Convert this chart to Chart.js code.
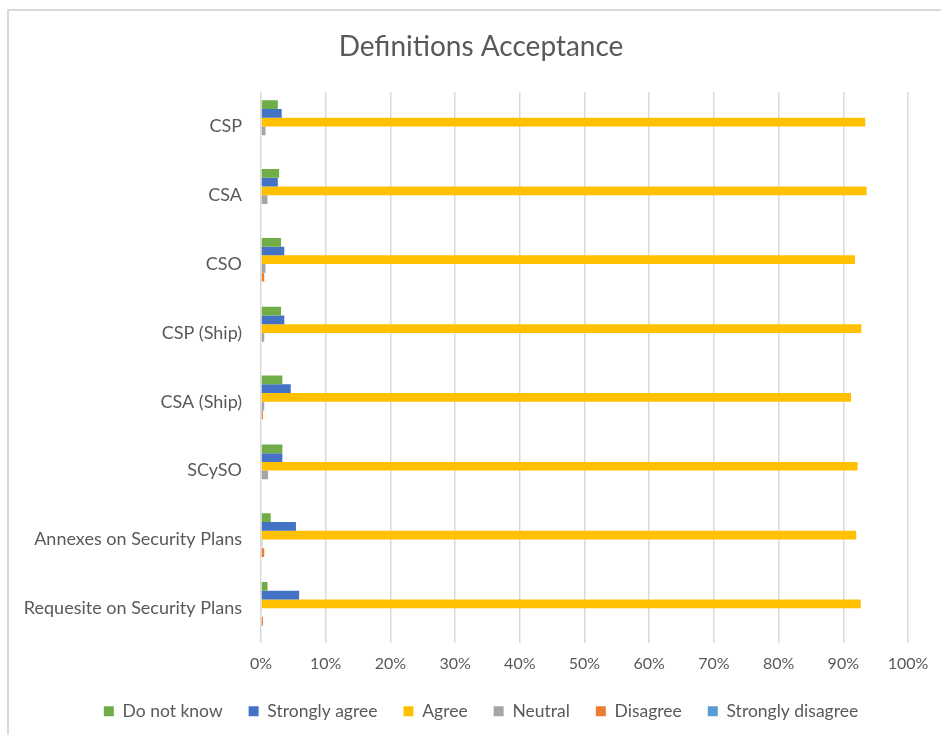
<!DOCTYPE html>
<html>
<head>
<meta charset="utf-8">
<script src="https://cdn.jsdelivr.net/npm/chart.js@4.4.1/dist/chart.umd.min.js"></script>
<style>
  html, body { margin: 0; padding: 0; background: #ffffff; overflow: hidden; }
  #frame {
    position: absolute; left: 7px; top: 9px; width: 1000px; height: 800px;
    border-top: 2px solid #d9d9d9; border-left: 2px solid #d9d9d9;
  }
  #wrap { position: absolute; left: 0; top: 0; width: 962px; height: 735px; }
</style>
</head>
<body>
<div id="frame"></div>
<div id="wrap"><canvas id="chart" width="962" height="735"></canvas></div>
<script>
// Survey answers per definition, in percent of respondents
const categories = [
  'CSP', 'CSA', 'CSO', 'CSP (Ship)', 'CSA (Ship)', 'SCySO',
  'Annexes on Security Plans', 'Requesite on Security Plans'
];
const doNotKnow        = [2.6, 2.8, 3.1, 3.1, 3.3, 3.3, 1.5, 1.0];
const stronglyAgree    = [3.2, 2.6, 3.6, 3.6, 4.6, 3.3, 5.4, 5.9];
const agree            = [93.4, 93.6, 91.8, 92.8, 91.2, 92.2, 92.0, 92.7];
const neutral          = [0.7, 1.0, 0.7, 0.5, 0.5, 1.1, 0.2, 0.1];
const disagree         = [0, 0, 0.5, 0, 0.3, 0, 0.5, 0.3];
const stronglyDisagree = [0, 0, 0, 0, 0, 0, 0, 0];
const xTicks = [0, 10, 20, 30, 40, 50, 60, 70, 80, 90, 100];

const textColor = '#595959';
const fontFamily = 'Lato, "Open Sans", sans-serif';

const series = [
  { label: 'Do not know',       data: doNotKnow,        color: '#70AD47' },
  { label: 'Strongly agree',    data: stronglyAgree,    color: '#4472C4' },
  { label: 'Agree',             data: agree,            color: '#FFC000' },
  { label: 'Neutral',           data: neutral,          color: '#A5A5A5' },
  { label: 'Disagree',          data: disagree,         color: '#ED7D31' },
  { label: 'Strongly disagree', data: stronglyDisagree, color: '#5B9BD5' }
];

new Chart(document.getElementById('chart'), {
  type: 'bar',
  data: {
    labels: categories,
    datasets: series.map(s => ({
      label: s.label,
      data: s.data,
      backgroundColor: s.color,
      borderWidth: 0,
      categoryPercentage: 0.76,
      barPercentage: 1.0
    }))
  },
  options: {
    indexAxis: 'y',
    responsive: false,
    animation: false,
    layout: { padding: { left: 0, right: 0, top: 0, bottom: 5 } },
    plugins: {
      title: {
        display: true,
        text: 'Definitions Acceptance',
        color: textColor,
        font: { family: fontFamily, size: 28, weight: 'normal' },
        padding: { top: 30.2, bottom: 28.2 }
      },
      legend: {
        position: 'bottom',
        labels: {
          color: textColor,
          font: { family: fontFamily, size: 17.5 },
          boxWidth: 10,
          boxHeight: 10,
          padding: 26
        }
      },
      tooltip: { enabled: false }
    },
    scales: {
      x: {
        min: 0,
        max: 100,
        afterBuildTicks: (scale) => { scale.ticks = xTicks.map(v => ({ value: v })); },
        afterFit: (scale) => { scale.height = 33.8; },
        ticks: {
          color: textColor,
          font: { family: fontFamily, size: 16 },
          padding: 12,
          callback: (v) => v + '%'
        },
        grid: { color: '#d9d9d9', lineWidth: 1.5, drawTicks: false },
        border: { display: false }
      },
      y: {
        afterFit: (scale) => { scale.width = 261; },
        ticks: {
          color: textColor,
          font: { family: fontFamily, size: 18 },
          padding: 19
        },
        grid: { display: false, drawTicks: false },
        border: { display: false }
      },
      // empty right-hand margin inside the chart frame
      y2: {
        type: 'linear',
        position: 'right',
        afterFit: (scale) => { scale.width = 54; },
        ticks: { display: false },
        grid: { display: false, drawTicks: false },
        border: { display: false }
      }
    }
  }
});
</script>
</body>
</html>
